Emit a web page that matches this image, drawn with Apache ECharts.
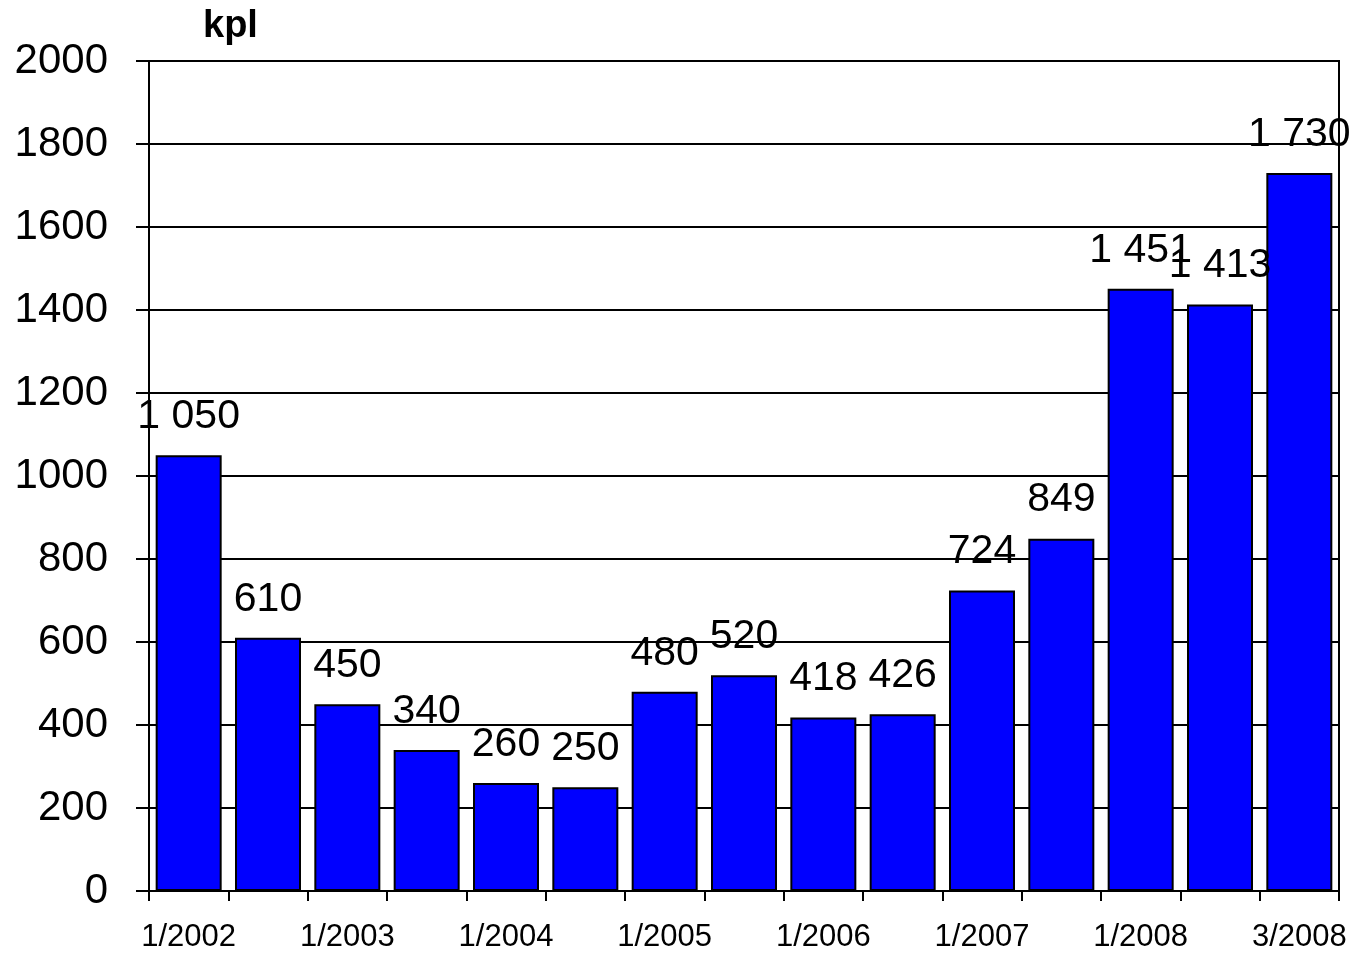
<!DOCTYPE html>
<html>
<head>
<meta charset="utf-8">
<script src="https://cdn.jsdelivr.net/npm/echarts@6/dist/echarts.min.js"></script>
<style>
  html, body { margin: 0; padding: 0; background: #ffffff; }
  #chart { width: 1358px; height: 953px; }
</style>
</head>
<body>
<div id="chart"></div>
<script>
// Periods on the category axis (every other one is labelled)
const periods = [
  '1/2002', '7/2002', '1/2003', '7/2003', '1/2004', '7/2004', '1/2005', '7/2005',
  '1/2006', '7/2006', '1/2007', '7/2007', '1/2008', '2/2008', '3/2008'
];
// Quantity per period, thousands of pieces (kpl)
const values = [1050, 610, 450, 340, 260, 250, 480, 520, 418, 426, 724, 849, 1451, 1413, 1730];
// Value axis range
const yMin = 0, yMax = 2000, yStep = 200;

const FONT = '"Liberation Sans", Arial, sans-serif';

// Thousands separated by a space: 1050 -> "1 050"
function spaced(n) {
  return String(n).replace(/\B(?=(\d{3})+(?!\d))/g, ' ');
}

const chart = echarts.init(document.getElementById('chart'), null, { renderer: 'canvas' });
chart.setOption({
  animation: false,
  backgroundColor: '#ffffff',
  textStyle: { fontFamily: FONT, color: '#000' },
  graphic: [{
    type: 'text',
    left: 203,
    top: 8,
    style: { text: 'kpl', font: 'bold 38px ' + FONT, fill: '#000' }
  }],
  grid: {
    left: 149, right: 19, top: 61, bottom: 62,
    show: true, borderColor: '#000', borderWidth: 2, backgroundColor: 'transparent'
  },
  xAxis: {
    type: 'category',
    data: periods,
    boundaryGap: true,
    axisLine: { lineStyle: { color: '#000', width: 2 } },
    axisTick: { show: true, interval: 0, length: 10, alignWithLabel: false, lineStyle: { color: '#000', width: 2 } },
    axisLabel: { interval: 1, margin: 31, fontSize: 31, color: '#000', fontFamily: FONT },
    splitLine: { show: false }
  },
  yAxis: {
    type: 'value',
    min: yMin, max: yMax, interval: yStep,
    axisLine: { show: true, lineStyle: { color: '#000', width: 2 } },
    axisTick: { show: true, length: 13, lineStyle: { color: '#000', width: 2 } },
    axisLabel: { margin: 41, fontSize: 42, color: '#000', fontFamily: FONT, formatter: v => String(v) },
    splitLine: { show: true, lineStyle: { color: '#000', width: 2 } }
  },
  series: [{
    type: 'bar',
    data: values,
    barWidth: 66,
    itemStyle: { color: '#0000ff', borderColor: '#000', borderWidth: 2 },
    label: {
      show: true,
      position: 'top',
      distance: 18,
      fontSize: 41,
      color: '#000',
      fontFamily: FONT,
      formatter: p => spaced(p.value)
    }
  }]
});
</script>
</body>
</html>
